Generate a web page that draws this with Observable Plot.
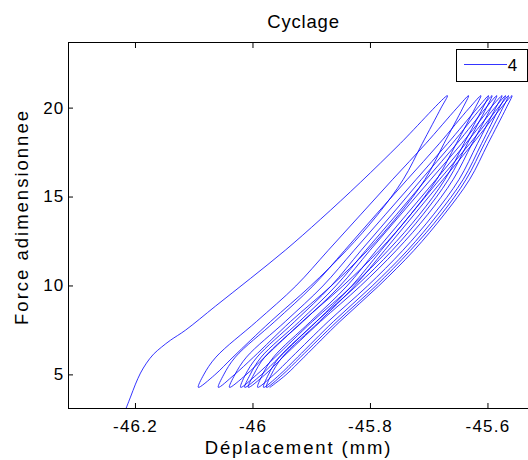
<!DOCTYPE html>
<html><head><meta charset="utf-8">
<script src="https://cdn.jsdelivr.net/npm/d3@7"></script>
<script src="https://cdn.jsdelivr.net/npm/@observablehq/plot@0.6"></script>
<style>body{margin:0;background:#fff} #chart{width:528px;height:460px;overflow:hidden}</style>
</head><body><div id="chart"></div>
<script>
// ---- data ----
const title = "Cyclage";
const xLabel = "Déplacement (mm)";
const yLabel = "Force adimensionnee";
const legendLabels = ["4"];
const xTicks = [-46.2, -46, -45.8, -45.6];
const yTicks = [5, 10, 15, 20];
const xDomain = [-46.314, -45.531];
const yDomain = [3.11, 23.69];

// first loading branch
const initialDisp  = [-46.218, -46.2085, -46.200, -46.1915, -46.1813, -46.1694, -46.1557, -46.1404, -46.115, -46.064, -46.004, -45.945, -45.885, -45.817, -45.749, -45.669];
const initialForce = [2.95, 3.75, 4.48, 5.10, 5.66, 6.16, 6.56, 6.95, 7.51, 8.86, 10.43, 12.01, 13.75, 15.83, 18.02, 20.7];

// force levels shared by the cycle branches
const forceDown = [20.7, 20, 18, 16, 14, 12, 10, 8, 6, 5, 4.3];
const forceUp   = [4.3, 5, 6, 8, 10, 12, 14, 16, 18, 20, 20.7];

// unloading branches (displacement at each forceDown level)
const unload1  = [-45.669, -45.680, -45.712, -45.744, -45.788, -45.841, -45.902, -45.970, -46.034, -46.065, -46.093];
const unload2  = [-45.633, -45.643, -45.675, -45.707, -45.752, -45.805, -45.867, -45.936, -45.999, -46.032, -46.059];
const unload3  = [-45.612, -45.622, -45.654, -45.687, -45.732, -45.785, -45.847, -45.916, -45.980, -46.012, -46.040];
const unload4  = [-45.599, -45.609, -45.641, -45.673, -45.717, -45.770, -45.831, -45.899, -45.962, -45.994, -46.021];
const unload5  = [-45.593, -45.603, -45.635, -45.667, -45.711, -45.763, -45.824, -45.892, -45.955, -45.986, -46.014];
const unload6  = [-45.585, -45.595, -45.627, -45.659, -45.703, -45.756, -45.817, -45.885, -45.949, -45.980, -46.008];
const unload7  = [-45.576, -45.587, -45.618, -45.649, -45.693, -45.745, -45.805, -45.872, -45.934, -45.965, -45.992];
const unload8  = [-45.570, -45.581, -45.611, -45.642, -45.686, -45.737, -45.797, -45.863, -45.924, -45.955, -45.982];
const unload9  = [-45.565, -45.575, -45.606, -45.637, -45.680, -45.732, -45.791, -45.857, -45.919, -45.950, -45.977];
const unload10 = [-45.559, -45.569, -45.600, -45.631, -45.675, -45.726, -45.786, -45.852, -45.913, -45.944, -45.971];

// reloading branches (displacement at each forceUp level)
const load1 = [-46.093, -46.084, -46.063, -45.994, -45.927, -45.872, -45.817, -45.762, -45.706, -45.653, -45.633];
const load2 = [-46.059, -46.050, -46.030, -45.963, -45.898, -45.844, -45.791, -45.737, -45.683, -45.632, -45.612];
const load3 = [-46.040, -46.031, -46.011, -45.945, -45.881, -45.828, -45.775, -45.722, -45.669, -45.618, -45.599];
const load4 = [-46.021, -46.013, -45.993, -45.929, -45.867, -45.816, -45.764, -45.713, -45.661, -45.612, -45.593];
const load5 = [-46.014, -46.005, -45.986, -45.921, -45.859, -45.808, -45.756, -45.705, -45.653, -45.604, -45.585];
const load6 = [-46.008, -45.999, -45.980, -45.915, -45.852, -45.801, -45.749, -45.697, -45.645, -45.596, -45.576];
const load7 = [-45.992, -45.984, -45.965, -45.902, -45.840, -45.790, -45.739, -45.688, -45.638, -45.589, -45.570];
const load8 = [-45.982, -45.974, -45.955, -45.892, -45.832, -45.782, -45.732, -45.682, -45.631, -45.583, -45.565];
const load9 = [-45.977, -45.969, -45.950, -45.887, -45.827, -45.776, -45.726, -45.676, -45.626, -45.578, -45.559];

// ---- build the single path table (branch start = previous branch end, so skip it) ----
const unloads = [unload1, unload2, unload3, unload4, unload5, unload6, unload7, unload8, unload9, unload10];
const loads = [load1, load2, load3, load4, load5, load6, load7, load8, load9];
const rows = [];
initialDisp.forEach((x, i) => rows.push({x, y: initialForce[i]}));
unloads.forEach((u, k) => {
  u.forEach((x, i) => { if (i > 0) rows.push({x, y: forceDown[i]}); });
  if (k < loads.length) loads[k].forEach((x, i) => { if (i > 0) rows.push({x, y: forceUp[i]}); });
});

const font = "'Liberation Sans', Arial, Helvetica, sans-serif";
const fsTick = 17;
const fsLabel = 18.5;
const plot = Plot.plot({
  width: 528, height: 460,
  marginLeft: 68, marginRight: 0, marginTop: 42, marginBottom: 52,
  style: {fontFamily: font, fontSize: fsTick + "px", color: "#000", background: "#fff"},
  x: {domain: xDomain},
  y: {domain: yDomain},
  marks: [
    Plot.line(rows, {x: "x", y: "y", stroke: "#0000ff", strokeWidth: 0.8, curve: "catmull-rom", clip: true}),
    Plot.ruleY([yDomain[0]], {stroke: "#000"}),
    Plot.ruleY([yDomain[1]], {stroke: "#000"}),
    Plot.ruleX([xDomain[0]], {stroke: "#000"}),
    Plot.axisX(xTicks, {anchor: "bottom", tickSize: -5, tickPadding: 16, tickFormat: d => String(d), label: null, fontSize: fsTick}),
    Plot.axisX(xTicks, {anchor: "top", tickSize: -5, tickFormat: () => "", label: null}),
    Plot.axisY(yTicks, {anchor: "left", tickSize: -5, tickPadding: 9, tickFormat: d => String(d), label: null, fontSize: fsTick}),
    Plot.text([title], {frameAnchor: "top", textAnchor: "middle", lineAnchor: "middle", dy: -20, dx: 5, fontSize: fsLabel, className: "ttl"}),
    Plot.text([xLabel], {frameAnchor: "bottom", textAnchor: "middle", lineAnchor: "middle", dy: 40, fontSize: fsLabel, className: "xlab"}),
    Plot.text([yLabel], {frameAnchor: "left", textAnchor: "middle", lineAnchor: "middle", rotate: -90, dx: -46.5, dy: -8.5, fontSize: fsLabel, className: "ylab"})
  ]
});
document.getElementById("chart").appendChild(plot);

// letter spacing to match the wide rendering of the reference
const svg = d3.select(plot);
svg.selectAll("[aria-label='x-axis tick label'] text, [aria-label='y-axis tick label'] text").style("letter-spacing", "1.2px");
svg.selectAll(".ttl text").style("letter-spacing", "0.8px");
svg.selectAll(".xlab text").style("letter-spacing", "1.9px");
svg.selectAll(".ylab text").style("letter-spacing", "2px");

// legend box
const lg = svg.append("g").attr("font-family", font).attr("font-size", fsTick);
lg.append("rect").attr("x", 456.5).attr("y", 49.5).attr("width", 71).attr("height", 32)
  .attr("fill", "#fff").attr("stroke", "#000");
lg.append("line").attr("x1", 464).attr("x2", 507).attr("y1", 64.5).attr("y2", 64.5)
  .attr("stroke", "#0000ff").attr("stroke-width", 0.8);
lg.append("text").attr("x", 513).attr("y", 65).attr("dy", "0.35em").style("letter-spacing", "1px").text(legendLabels[0]);
</script></body></html>
